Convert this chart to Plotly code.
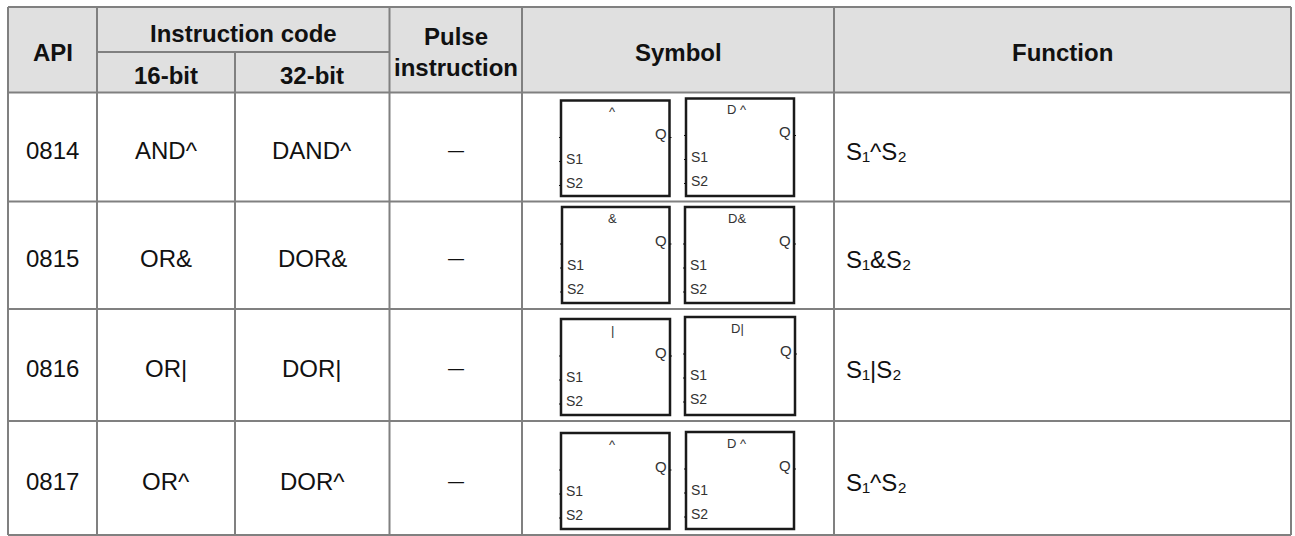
import plotly.graph_objects as go

W, H = 1295, 536
header_top = ["API", "Instruction code", "Pulse<br>instruction", "Symbol", "Function"]
header_sub = ["16-bit", "32-bit"]
api = ["0814", "0815", "0816", "0817"]
code16 = ["AND^", "OR&", "OR|", "OR^"]
code32 = ["DAND^", "DOR&", "DOR|", "DOR^"]
pulse = ["—", "—", "—", "—"]
sym_a = ["^", "&", "|", "^"]
sym_b = ["D ^", "D&", "D|", "D ^"]
func_op = ["^", "&", "|", "^"]

col_x = [8, 97, 235, 389.5, 522, 834, 1291]
row_y = [7, 92.5, 201.5, 309, 421, 535]
header_mid = 52
boxes_a = [(561, 100.5, 669.5, 196), (562, 207, 669.5, 303), (561, 319, 670, 415), (561, 433, 669.5, 529)]
boxes_b = [(686, 98.5, 794, 196), (685, 207, 794, 303), (685, 317, 795, 415), (686, 432, 794, 529)]

GREY = "#808080"
FONT = "Liberation Sans"
NARROW = "Liberation Sans Narrow, Liberation Sans"
BOLD = 24
BODY = 24
shapes, ann = [], []

def rect(x0, y0, x1, y1, fill=None, color=None, w=0):
    shapes.append(dict(type="rect", x0=x0, y0=y0, x1=x1, y1=y1,
                       fillcolor=fill or "rgba(0,0,0,0)",
                       line=dict(color=color or "rgba(0,0,0,0)", width=w)))

def line(x0, y0, x1, y1, color=GREY, w=2):
    shapes.append(dict(type="line", x0=x0, y0=y0, x1=x1, y1=y1, line=dict(color=color, width=w)))

def text(x, y, s, size=BODY, bold=False, anchor="center", color="#111111", family=FONT):
    ann.append(dict(x=x, y=y, text=f"<b>{s}</b>" if bold else s, showarrow=False,
                    xanchor=anchor, yanchor="middle", align="center",
                    font=dict(family=family, size=size, color=color)))

rect(col_x[0], row_y[0], col_x[-1], row_y[1], fill="#e0e0e0")
for y in row_y:
    line(col_x[0], y, col_x[-1], y)
line(col_x[1], header_mid, col_x[3], header_mid)
for i, x in enumerate(col_x):
    if i == 2:
        line(x, header_mid, x, row_y[-1])
    else:
        line(x, row_y[0], x, row_y[-1])

text((col_x[0] + col_x[1]) / 2, 52, header_top[0], bold=True, size=BOLD)
text((col_x[1] + col_x[3]) / 2, 33, header_top[1], bold=True, size=BOLD)
text((col_x[3] + col_x[4]) / 2, 51.5, header_top[2], bold=True, size=BOLD)
text((col_x[4] + col_x[5]) / 2, 52, header_top[3], bold=True, size=BOLD)
text((col_x[5] + col_x[6]) / 2, 52, header_top[4], bold=True, size=BOLD)
text((col_x[1] + col_x[2]) / 2, 75, header_sub[0], bold=True, size=BOLD)
text((col_x[2] + col_x[3]) / 2, 75, header_sub[1], bold=True, size=BOLD)

def symbol(box, label):
    x0, y0, x1, y1 = box
    rect(x0, y0, x1, y1, color="#1a1a1a", w=2.5)
    cx = (x0 + x1) / 2
    text(cx - 3, y0 + 11, label, size=13, color="#333333", family=NARROW)
    text(x1 - 9, y0 + 33, "Q", size=15, color="#333333", family=NARROW)
    text(x0 + 2.5, y0 + 58, "S1", size=14, anchor="left", color="#333333", family=NARROW)
    text(x0 + 2.5, y0 + 82, "S2", size=14, anchor="left", color="#333333", family=NARROW)
    for dy in (37, 61, 85):
        line(x0 - 2, y0 + dy, x0, y0 + dy, color="#111111", w=1)
    line(x1, y0 + 37, x1 + 2, y0 + 37, color="#111111", w=1)

for i in range(4):
    cy = (row_y[i + 1] + row_y[i + 2]) / 2 + 3
    text((col_x[0] + col_x[1]) / 2, cy, api[i])
    text((col_x[1] + col_x[2]) / 2, cy, code16[i])
    text((col_x[2] + col_x[3]) / 2, cy, code32[i])
    text((col_x[3] + col_x[4]) / 2, cy, pulse[i], size=16)
    symbol(boxes_a[i], sym_a[i])
    symbol(boxes_b[i], sym_b[i])
    text(col_x[5] + 9.5, cy + 1, f"S₁{func_op[i]}S₂", anchor="left")

fig = go.Figure()
fig.update_layout(
    width=W, height=H, margin=dict(l=0, r=0, t=0, b=0),
    paper_bgcolor="white", plot_bgcolor="white", showlegend=False,
    xaxis=dict(range=[0, W], visible=False, fixedrange=True),
    yaxis=dict(range=[H, 0], visible=False, fixedrange=True),
    shapes=shapes, annotations=ann,
)
fig.write_html("out.html", config=dict(displayModeBar=False),
               post_script="document.body.style.margin='0';document.body.style.overflow='hidden';")
